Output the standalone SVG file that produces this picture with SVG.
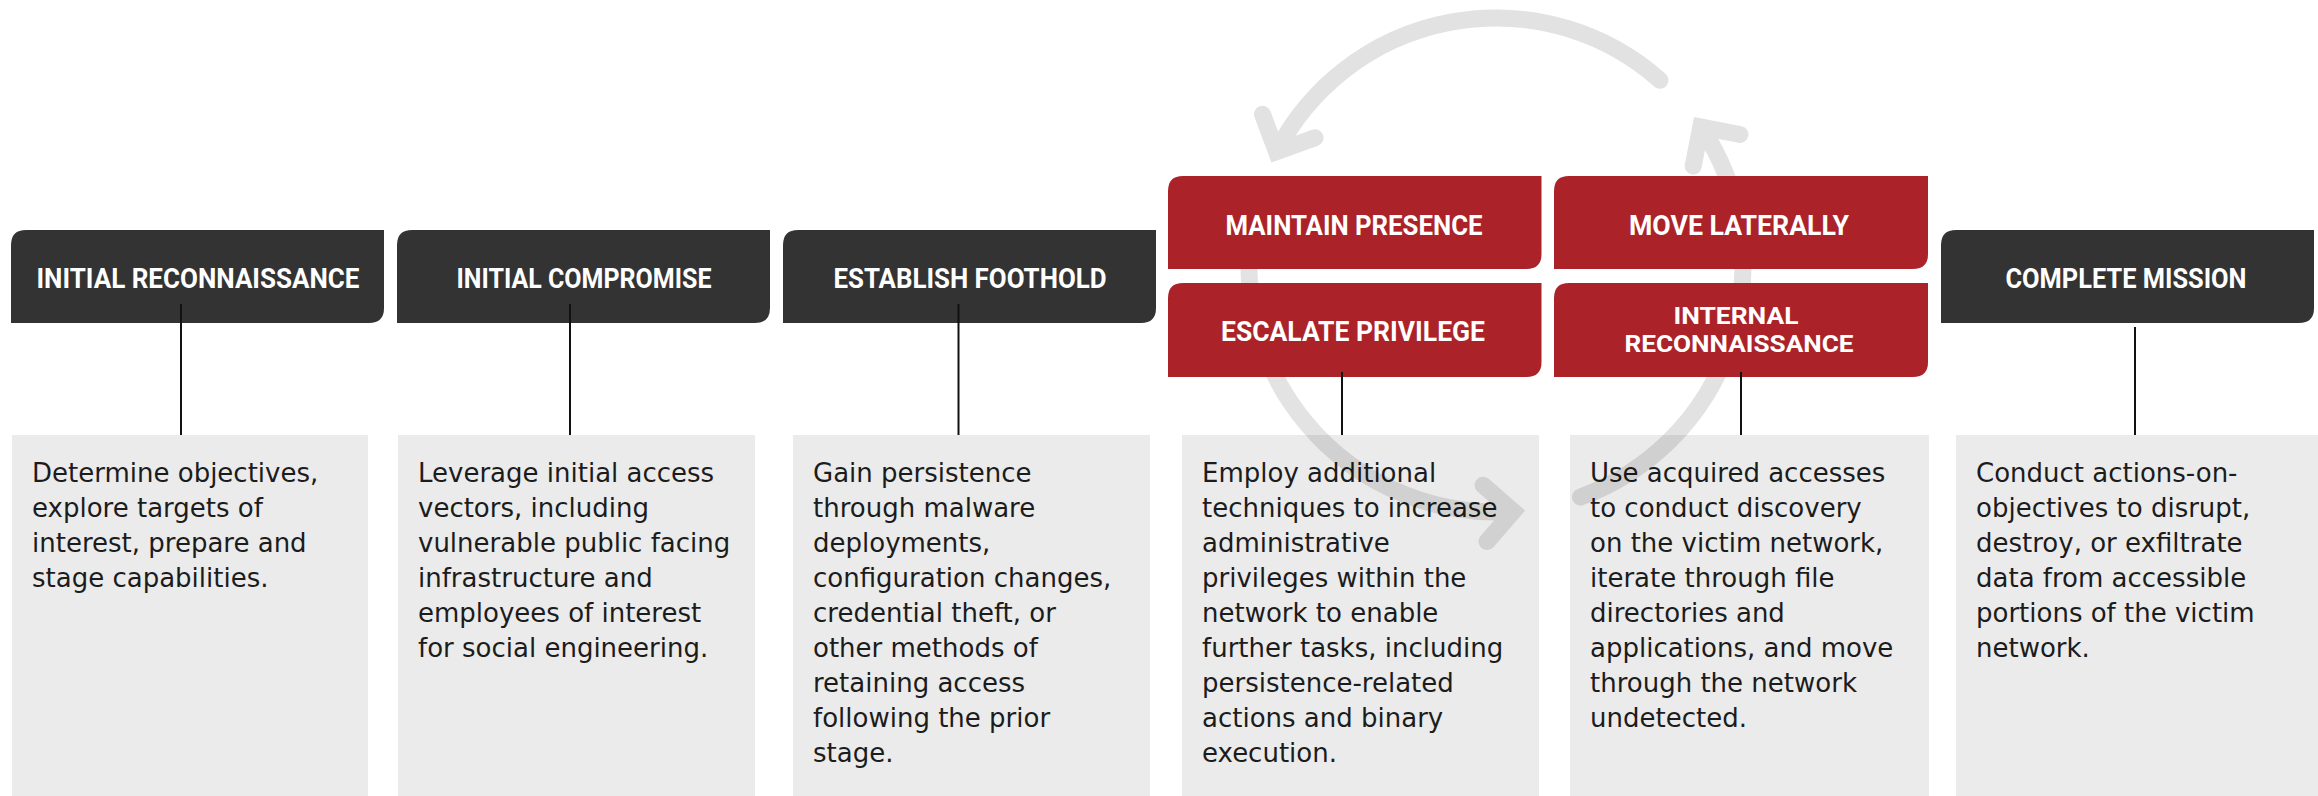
<svg xmlns="http://www.w3.org/2000/svg" width="2318" height="796" viewBox="0 0 2318 796">
<style>
.dark{fill:#333333}
.red{fill:#ab2328}
.desc{fill:#ebebeb}
.h{font-family:Roboto,"Liberation Sans",sans-serif;font-weight:700;font-size:27.5px;fill:#ffffff;text-anchor:middle}
.h2{font-size:24.5px}
.t{font-family:"DejaVu Sans","Liberation Sans",sans-serif;font-size:26px;fill:#1c1c1c}
.c{stroke:#111111;stroke-width:2;fill:none}
.arc{fill:none;stroke:#000000;stroke-width:17;stroke-linecap:round;stroke-linejoin:miter}
</style>
<rect x="0" y="0" width="2318" height="796" fill="#ffffff"/>

<g id="desc-initial-reconnaissance">
<rect class="desc" x="12" y="435" width="356" height="361"/>
<text class="t"><tspan x="32" y="482">Determine objectives,</tspan><tspan x="32" y="517">explore targets of</tspan><tspan x="32" y="552">interest, prepare and</tspan><tspan x="32" y="587">stage capabilities.</tspan></text>
</g>
<g id="desc-initial-compromise">
<rect class="desc" x="398" y="435" width="357" height="361"/>
<text class="t"><tspan x="418" y="482">Leverage initial access</tspan><tspan x="418" y="517">vectors, including</tspan><tspan x="418" y="552">vulnerable public facing</tspan><tspan x="418" y="587">infrastructure and</tspan><tspan x="418" y="622">employees of interest</tspan><tspan x="418" y="657">for social engineering.</tspan></text>
</g>
<g id="desc-establish-foothold">
<rect class="desc" x="793" y="435" width="357" height="361"/>
<text class="t"><tspan x="813" y="482">Gain persistence</tspan><tspan x="813" y="517">through malware</tspan><tspan x="813" y="552">deployments,</tspan><tspan x="813" y="587">configuration changes,</tspan><tspan x="813" y="622">credential theft, or</tspan><tspan x="813" y="657">other methods of</tspan><tspan x="813" y="692">retaining access</tspan><tspan x="813" y="727">following the prior</tspan><tspan x="813" y="762">stage.</tspan></text>
</g>
<g id="desc-escalate-privilege">
<rect class="desc" x="1182" y="435" width="357" height="361"/>
<text class="t"><tspan x="1202" y="482">Employ additional</tspan><tspan x="1202" y="517">techniques to increase</tspan><tspan x="1202" y="552">administrative</tspan><tspan x="1202" y="587">privileges within the</tspan><tspan x="1202" y="622">network to enable</tspan><tspan x="1202" y="657">further tasks, including</tspan><tspan x="1202" y="692">persistence-related</tspan><tspan x="1202" y="727">actions and binary</tspan><tspan x="1202" y="762">execution.</tspan></text>
</g>
<g id="desc-internal-reconnaissance">
<rect class="desc" x="1570" y="435" width="359" height="361"/>
<text class="t"><tspan x="1590" y="482">Use acquired accesses</tspan><tspan x="1590" y="517">to conduct discovery</tspan><tspan x="1590" y="552">on the victim network,</tspan><tspan x="1590" y="587">iterate through file</tspan><tspan x="1590" y="622">directories and</tspan><tspan x="1590" y="657">applications, and move</tspan><tspan x="1590" y="692">through the network</tspan><tspan x="1590" y="727">undetected.</tspan></text>
</g>
<g id="desc-complete-mission">
<rect class="desc" x="1956" y="435" width="362" height="361"/>
<text class="t"><tspan x="1976" y="482">Conduct actions-on-</tspan><tspan x="1976" y="517">objectives to disrupt,</tspan><tspan x="1976" y="552">destroy, or exfiltrate</tspan><tspan x="1976" y="587">data from accessible</tspan><tspan x="1976" y="622">portions of the victim</tspan><tspan x="1976" y="657">network.</tspan></text>
</g>

<g id="cycle" opacity="0.11">
<path class="arc" d="M 1660 80.3 A 247 247 0 0 0 1276.5 151.7 M 1315 137.7 L 1276.5 151.7 L 1262.5 114.2"/>
<path class="arc" d="M 1257.4 201.1 A 247 247 0 0 0 1513.2 511.4 M 1483 485.2 L 1513.2 511.4 L 1487 541.6"/>
<path class="arc" d="M 1580.5 497.1 A 247 247 0 0 0 1700.8 126.9 M 1693.2 166.1 L 1700.8 126.9 L 1740 134.5"/>
</g>

<g id="node-initial-reconnaissance">
<path class="dark" d="M 26 230 H 384 V 308 Q 384 323 369 323 H 11 V 245 Q 11 230 26 230 Z"/>
<text class="h" x="198" y="288" textLength="323" lengthAdjust="spacingAndGlyphs">INITIAL RECONNAISSANCE</text>
</g>
<g id="node-initial-compromise">
<path class="dark" d="M 412 230 H 770 V 308 Q 770 323 755 323 H 397 V 245 Q 397 230 412 230 Z"/>
<text class="h" x="584" y="288" textLength="255" lengthAdjust="spacingAndGlyphs">INITIAL COMPROMISE</text>
</g>
<g id="node-establish-foothold">
<path class="dark" d="M 798 230 H 1156 V 308 Q 1156 323 1141 323 H 783 V 245 Q 783 230 798 230 Z"/>
<text class="h" x="970" y="288" textLength="273" lengthAdjust="spacingAndGlyphs">ESTABLISH FOOTHOLD</text>
</g>
<g id="node-maintain-presence">
<path class="red" d="M 1183 176 H 1541.5 V 254 Q 1541.5 269 1526.5 269 H 1168 V 191 Q 1168 176 1183 176 Z"/>
<text class="h" x="1354" y="235" textLength="257" lengthAdjust="spacingAndGlyphs">MAINTAIN PRESENCE</text>
</g>
<g id="node-escalate-privilege">
<path class="red" d="M 1183 283 H 1541.5 V 362 Q 1541.5 377 1526.5 377 H 1168 V 298 Q 1168 283 1183 283 Z"/>
<text class="h" x="1353" y="341" textLength="264" lengthAdjust="spacingAndGlyphs">ESCALATE PRIVILEGE</text>
</g>
<g id="node-move-laterally">
<path class="red" d="M 1569 176 H 1928 V 254 Q 1928 269 1913 269 H 1554 V 191 Q 1554 176 1569 176 Z"/>
<text class="h" x="1739" y="235" textLength="220" lengthAdjust="spacingAndGlyphs">MOVE LATERALLY</text>
</g>
<g id="node-internal-reconnaissance">
<path class="red" d="M 1569 283 H 1928 V 362 Q 1928 377 1913 377 H 1554 V 298 Q 1554 283 1569 283 Z"/>
<text class="h h2" x="1736" y="324" textLength="125" lengthAdjust="spacingAndGlyphs">INTERNAL</text>
<text class="h h2" x="1739" y="352" textLength="229" lengthAdjust="spacingAndGlyphs">RECONNAISSANCE</text>
</g>
<g id="node-complete-mission">
<path class="dark" d="M 1956 230 H 2314 V 308 Q 2314 323 2299 323 H 1941 V 245 Q 1941 230 1956 230 Z"/>
<text class="h" x="2126" y="288" textLength="241" lengthAdjust="spacingAndGlyphs">COMPLETE MISSION</text>
</g>

<g id="connectors">
<line class="c" x1="181" y1="304" x2="181" y2="435"/>
<line class="c" x1="570" y1="304" x2="570" y2="435"/>
<line class="c" x1="958.5" y1="304" x2="958.5" y2="435"/>
<line class="c" x1="1342" y1="372" x2="1342" y2="435"/>
<line class="c" x1="1741" y1="372" x2="1741" y2="435"/>
<line class="c" x1="2135" y1="327" x2="2135" y2="435"/>
</g>
</svg>
